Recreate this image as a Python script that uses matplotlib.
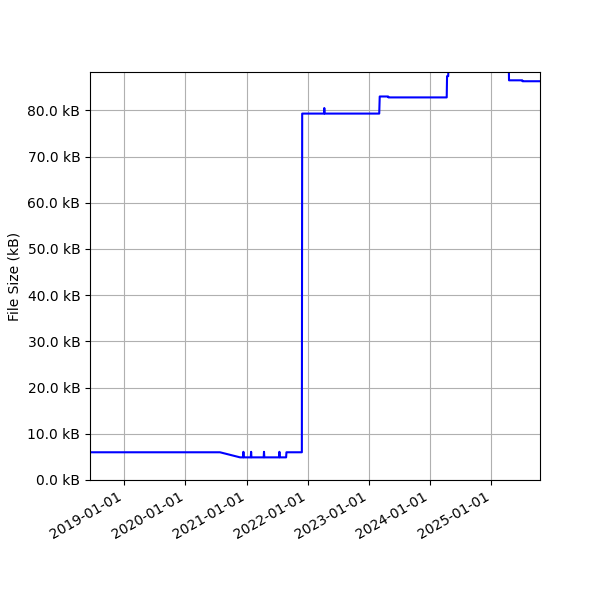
import matplotlib
matplotlib.use("Agg")
import matplotlib.pyplot as plt
import matplotlib.dates as mdates
from matplotlib.ticker import FuncFormatter
import pandas as pd

## Data ##
dates = ["2018-06-10", "2020-07-25", "2020-11-22", "2020-12-10", "2020-12-12",
         "2020-12-14", "2021-01-25", "2021-01-27", "2021-01-29", "2021-04-12",
         "2021-04-14", "2021-04-16", "2021-07-13", "2021-07-15", "2021-07-17",
         "2021-08-24", "2021-08-26", "2021-11-26", "2021-11-28", "2022-04-07",
         "2022-04-09", "2022-04-11", "2023-03-03", "2023-03-06", "2023-04-25",
         "2023-04-27", "2024-04-09", "2024-04-11", "2024-04-18", "2024-04-20",
         "2025-04-14", "2025-04-16", "2025-07-04", "2025-07-06", "2025-10-18"]
size_kb = [6.0, 6.0, 4.9, 4.9, 6.1,
           4.9, 4.9, 6.1, 4.9, 4.9,
           6.1, 4.9, 4.9, 6.1, 4.9,
           4.9, 6.0, 6.0, 79.3, 79.3,
           80.5, 79.3, 79.3, 83.0, 83.0,
           82.8, 82.8, 87.4, 87.4, 92.0,
           92.0, 86.5, 86.5, 86.3, 86.3]

x = pd.to_datetime(dates)

fig, ax = plt.subplots(figsize=(6, 6), dpi=100)
fig.subplots_adjust(left=0.15, right=0.9, top=0.88, bottom=0.2)

ax.plot(x, size_kb, color="blue")

ax.set_xlim(x[0], x[-1])
ax.set_ylim(0, 88.3)
ax.xaxis.set_major_locator(mdates.YearLocator())
ax.xaxis.set_major_formatter(mdates.DateFormatter("%Y-%m-%d"))
ax.yaxis.set_major_formatter(FuncFormatter(lambda v, p: "%.1f kB" % v))
ax.set_ylabel("File Size (kB)")
ax.grid(True)

fig.autofmt_xdate()
fig.subplots_adjust(left=0.15, right=0.9, top=0.88, bottom=0.2)

plt.savefig("out.png")
